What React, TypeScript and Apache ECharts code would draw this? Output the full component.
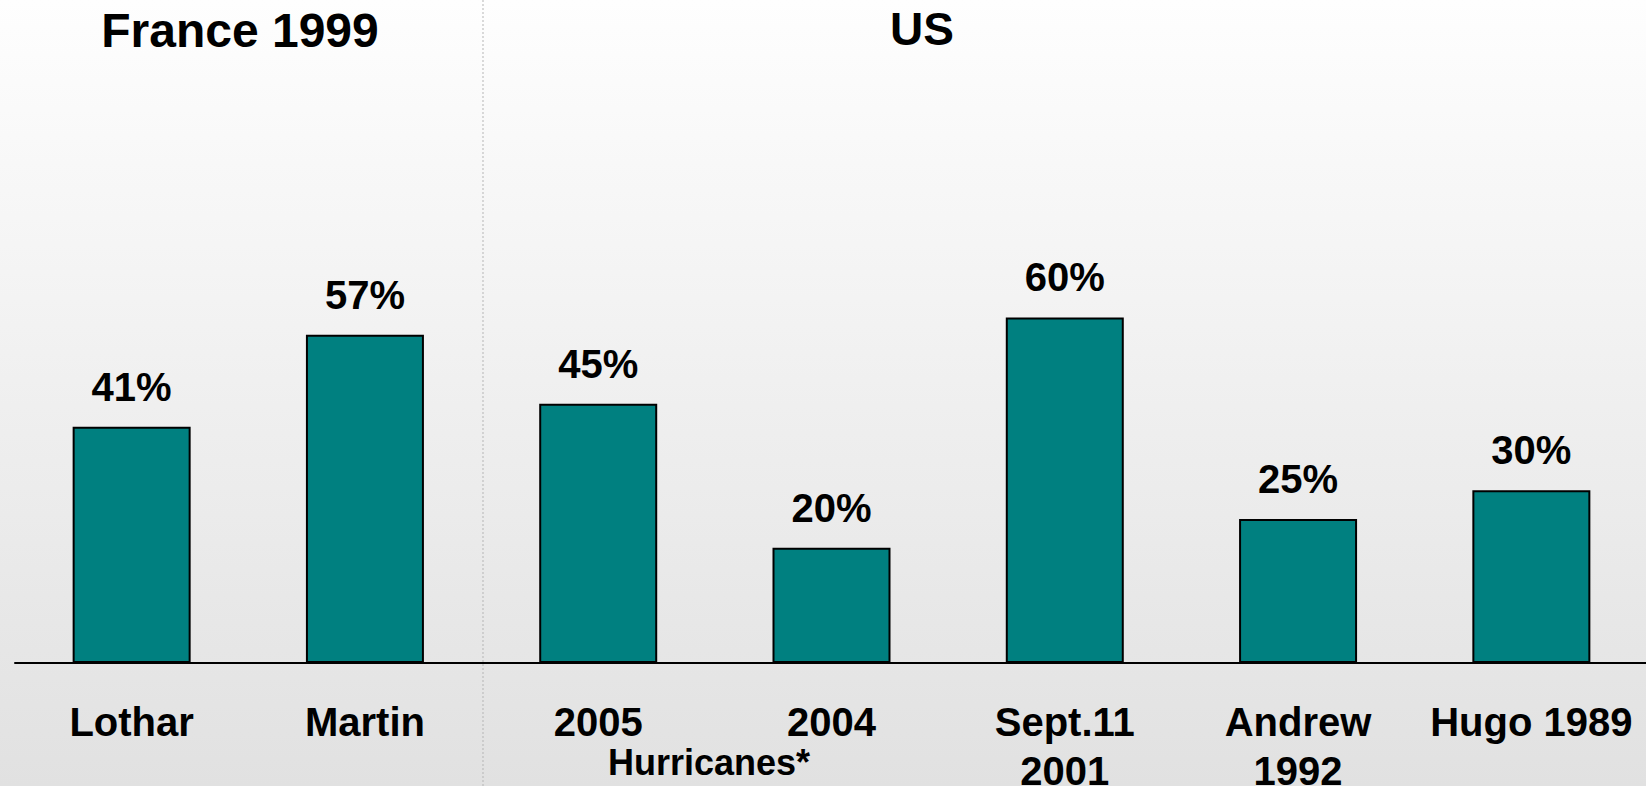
import React, { useEffect, useRef } from "react";
import * as echarts from "echarts";

const categories = ["Lothar", "Martin", "2005", "2004", "Sept.11\n2001", "Andrew\n1992", "Hugo 1989"];
const values = [41, 57, 45, 20, 60, 25, 30];
const groupTitles = ["France 1999", "US"];
const subLabel = "Hurricanes*";

const FONT = "'Liberation Sans', Arial, Helvetica, sans-serif";

export default function App() {
  const ref = useRef<HTMLDivElement>(null);
  useEffect(() => {
    if (!ref.current) return;
    const chart = echarts.init(ref.current, undefined, { renderer: "svg" });
    chart.setOption({
      animation: false,
      backgroundColor: new echarts.graphic.LinearGradient(0, 0, 0, 1, [
        { offset: 0, color: "#fefefe" },
        { offset: 1, color: "#e1e1e1" },
      ]),
      textStyle: { fontFamily: FONT },
      grid: { left: 15, width: 1633, top: 87, height: 576, containLabel: false, outerBoundsMode: "none" },
      xAxis: {
        type: "category",
        data: categories,
        axisTick: { show: false },
        axisLine: { lineStyle: { color: "#000", width: 2 } },
        axisLabel: {
          interval: 0,
          margin: 34,
          fontSize: 40,
          lineHeight: 49,
          fontWeight: "bold",
          color: "#000",
          fontFamily: FONT,
          hideOverlap: false,
        },
        splitLine: { show: false },
      },
      yAxis: { type: "value", min: 0, max: 100, show: false, splitLine: { show: false } },
      series: [
        {
          type: "bar",
          data: values,
          barWidth: 118,
          itemStyle: { color: "#008080", borderColor: "#000", borderWidth: 2 },
          label: {
            show: true,
            position: "top",
            distance: 20,
            formatter: "{c}%",
            fontSize: 40,
            fontWeight: "bold",
            color: "#000",
            fontFamily: FONT,
          },
        },
      ],
      graphic: [
        {
          type: "line",
          shape: { x1: 483, y1: 0, x2: 483, y2: 786 },
          style: { stroke: "#b5b5b5", lineWidth: 1, lineDash: [2, 2] },
          z: 0,
        },
        {
          type: "text",
          x: 240,
          y: 6,
          style: { text: groupTitles[0], fontSize: 48, fontWeight: "bold", fontFamily: FONT, fill: "#000", align: "center", verticalAlign: "top" },
        },
        {
          type: "text",
          x: 922,
          y: 6,
          style: { text: groupTitles[1], fontSize: 46, fontWeight: "bold", fontFamily: FONT, fill: "#000", align: "center", verticalAlign: "top" },
        },
        {
          type: "text",
          x: 709,
          y: 744,
          style: { text: subLabel, fontSize: 36, fontWeight: "bold", fontFamily: FONT, fill: "#000", align: "center", verticalAlign: "top" },
        },
      ],
    });
    return () => chart.dispose();
  }, []);
  return <div ref={ref} style={{ position: "absolute", left: 0, top: 0, width: 1646, height: 786 }} />;
}
